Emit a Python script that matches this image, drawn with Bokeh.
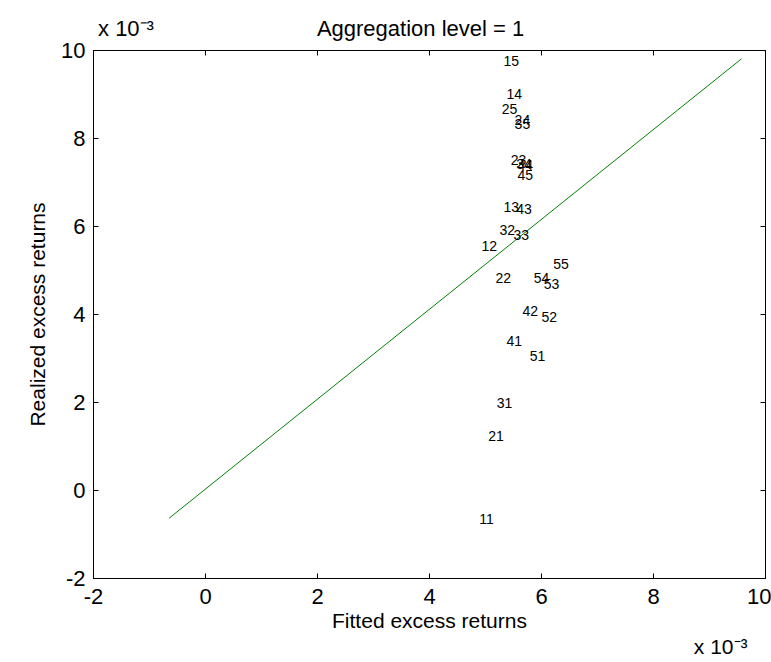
from bokeh.plotting import figure
from bokeh.models import Range1d, LinearAxis, FixedTicker, ColumnDataSource
from bokeh.embed import file_html
from bokeh.resources import INLINE
from bokeh.core.properties import value

FONT = "Liberation Sans"

# Portfolio ids (size quintile, book-to-market quintile)
portfolios = ["11", "12", "13", "14", "15",
              "21", "22", "23", "24", "25",
              "31", "32", "33", "34", "35",
              "41", "42", "43", "44", "45",
              "51", "52", "53", "54", "55"]

# Mean excess returns, in units of 10^-3
fitted = [4.89, 4.93, 5.32, 5.375, 5.32,
          5.05, 5.18, 5.45, 5.52, 5.29,
          5.20, 5.25, 5.50, 5.55, 5.52,
          5.375, 5.66, 5.55, 5.57, 5.57,
          5.79, 6.00, 6.04, 5.86, 6.21]
realized = [-0.64, 5.55, 6.45, 9.02, 9.77,
            1.23, 4.84, 7.52, 8.43, 8.68,
            1.98, 5.91, 5.80, 7.43, 8.34,
            3.39, 4.09, 6.39, 7.39, 7.18,
            3.05, 3.95, 4.70, 4.84, 5.14]

# Reference line through the cloud
line_x = [-0.65, 9.57]
line_y = [-0.63, 9.81]

x_ticks = [-2, 0, 2, 4, 6, 8, 10]
y_ticks = [-2, 0, 2, 4, 6, 8, 10]

TITLE = "Aggregation level = 1"
MULT = "x 10\u207b\u00b3"

p = figure(width=771, height=662, output_backend="svg", toolbar_location=None,
           x_range=Range1d(-2, 10), y_range=Range1d(-2, 10),
           min_border_left=93, min_border_right=6,
           min_border_top=50, min_border_bottom=84,
           x_axis_label="Fitted excess returns",
           y_axis_label="Realized excess returns")
p.xgrid.visible = False
p.ygrid.visible = False
p.outline_line_color = "black"
p.background_fill_color = "white"
p.border_fill_color = "white"

for ax, ticks in ((p.xaxis[0], x_ticks), (p.yaxis[0], y_ticks)):
    ax.ticker = FixedTicker(ticks=ticks)
    ax.major_label_overrides = {t: str(t) for t in ticks}
    ax.major_tick_in = 5
    ax.major_tick_out = 0
    ax.minor_tick_line_color = None
    ax.axis_line_color = "black"
    ax.major_tick_line_color = "black"
    ax.major_label_text_font = FONT
    ax.major_label_text_font_size = "22px"
    ax.major_label_text_color = "black"
    ax.axis_label_text_font = FONT
    ax.axis_label_text_font_size = "21px"
    ax.axis_label_text_font_style = "normal"
    ax.axis_label_text_color = "black"

p.xaxis[0].major_label_standoff = 10
p.xaxis[0].axis_label_standoff = 2
p.yaxis[0].major_label_standoff = 8
p.yaxis[0].axis_label_standoff = 9

# Box ticks on top and right (tick marks only, no labels)
for side, ticks in (("above", x_ticks), ("right", y_ticks)):
    ax = LinearAxis(ticker=FixedTicker(ticks=ticks),
                    major_tick_in=5, major_tick_out=0,
                    minor_tick_line_color=None,
                    major_label_text_font_size="0px",
                    major_label_text_color=None,
                    major_label_standoff=0)
    p.add_layout(ax, side)


def text_row(positions, texts, size, standoff):
    """A bare axis (no line, no ticks) used to place a row of texts."""
    return LinearAxis(ticker=FixedTicker(ticks=positions),
                      major_label_overrides=dict(zip(positions, texts)),
                      axis_line_color=None, major_tick_line_color=None,
                      minor_tick_line_color=None,
                      major_tick_in=0, major_tick_out=0,
                      major_label_standoff=standoff,
                      major_label_text_font=FONT,
                      major_label_text_font_size=size,
                      major_label_text_color="black")


# Title row with the x-scale multiplier on the top left
top_pos = [-1.42, 3.84]
p.add_layout(text_row(top_pos, [MULT, TITLE], "22px", 10), "above")

# x-scale multiplier under the bottom right corner
bottom_pos = [9.2]
p.add_layout(text_row(bottom_pos, [MULT], "21px", 0), "below")

p.line(line_x, line_y, line_color="#008000", line_width=1)

src = ColumnDataSource(dict(x=fitted, y=realized, name=portfolios))
p.text(x="x", y="y", text="name", source=src,
       text_font=value(FONT), text_font_size="14px", text_color="black",
       text_align="left", text_baseline="middle")

open("out.html", "w").write(file_html(p, INLINE))
